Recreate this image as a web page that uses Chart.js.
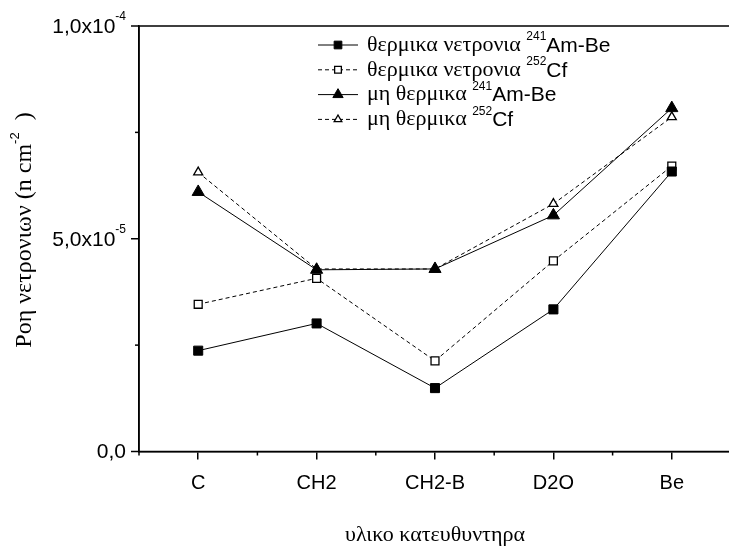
<!DOCTYPE html>
<html>
<head>
<meta charset="utf-8">
<script src="https://cdn.jsdelivr.net/npm/chart.js@4/dist/chart.umd.min.js"></script>
<style>
  html, body { margin: 0; padding: 0; background: #fff; overflow: hidden; }
  #wrap { width: 729px; height: 549px; overflow: hidden; }
</style>
</head>
<body>
<div id="wrap"><canvas id="fluxChart" width="740" height="549"></canvas></div>
<script>
// categories (moderator material)
const categories = ['C', 'CH2', 'CH2-B', 'D2O', 'Be'];

// neutron flux values (n cm^-2)
const thermalAmBe = [2.37e-5, 3.01e-5, 1.49e-5, 3.34e-5, 6.58e-5];
const thermalCf = [3.46e-5, 4.07e-5, 2.13e-5, 4.48e-5, 6.71e-5];
const fastAmBe = [6.10e-5, 4.27e-5, 4.29e-5, 5.55e-5, 8.07e-5];
const fastCf = [6.56e-5, 4.29e-5, 4.29e-5, 5.82e-5, 7.86e-5];

// y axis ticks, labelled ones get mantissa + exponent
const yTicks = [0, 2.5e-5, 5e-5, 7.5e-5, 1e-4];
const yTickBase = ['0,0', '', '5,0x10', '', '1,0x10'];
const yTickExp = ['', '', '-5', '', '-4'];

// legend text pieces
const legendNames = ['θερμικα νετρονια', 'θερμικα νετρονια', 'μη θερμικα', 'μη θερμικα'];
const legendIsotopes = ['241', '252', '241', '252'];
const legendSources = ['Am-Be', 'Cf', 'Am-Be', 'Cf'];

const xTitle = 'υλικο κατευθυντηρα';
const yTitle = 'Ροη νετρονιων (n cm';
const yTitleExp = '-2';

const SANS = '"Liberation Sans", Arial, sans-serif';
const SERIF = '"Liberation Serif", "Times New Roman", serif';

function series(data, style, dashed, filled, radius) {
  return {
    data,
    borderColor: '#000',
    borderWidth: 1,
    borderDash: dashed ? [4, 3] : [],
    pointStyle: style,
    pointRadius: radius,
    pointHoverRadius: radius,
    pointBackgroundColor: filled ? '#000' : '#fff',
    pointBorderColor: '#000',
    pointBorderWidth: filled ? 1 : 1.3,
    tension: 0,
    fill: false
  };
}

const datasets = [
  series(thermalAmBe, 'rect', false, true, 6.4),
  series(thermalCf, 'rect', true, false, 5.6),
  series(fastAmBe, 'triangle', false, true, 7),
  series(fastCf, 'triangle', true, false, 5.2)
];

function drawMarker(ctx, ds, x, y) {
  ctx.save();
  ctx.setLineDash([]);
  ctx.fillStyle = ds.pointBackgroundColor;
  ctx.strokeStyle = ds.pointBorderColor;
  ctx.lineWidth = ds.pointBorderWidth;
  Chart.helpers.drawPoint(ctx, { pointStyle: ds.pointStyle, radius: ds.pointRadius * 0.85, borderWidth: ds.pointBorderWidth }, x, y);
  ctx.restore();
}

const decorPlugin = {
  id: 'decor',
  afterDraw(chart) {
    const ctx = chart.ctx;
    const area = chart.chartArea;
    const xs = chart.scales.x;
    const ys = chart.scales.y;
    ctx.save();

    // frame
    ctx.strokeStyle = '#000';
    ctx.lineWidth = 1.5;
    ctx.strokeRect(area.left, area.top, area.right - area.left, area.bottom - area.top);

    // y ticks and labels
    yTicks.forEach((v, i) => {
      const y = ys.getPixelForValue(v);
      const major = yTickBase[i] !== '';
      ctx.beginPath();
      ctx.moveTo(area.left, y);
      ctx.lineTo(area.left - (major ? 8 : 4), y);
      ctx.stroke();
      if (!major) return;
      ctx.fillStyle = '#000';
      ctx.textBaseline = 'middle';
      ctx.textAlign = 'right';
      let right = area.left - 13;
      if (yTickExp[i]) {
        ctx.font = '12px ' + SANS;
        ctx.fillText(yTickExp[i], right, y - 9);
        right -= ctx.measureText(yTickExp[i]).width;
      }
      ctx.font = '21px ' + SANS;
      ctx.fillText(yTickBase[i], right, y + 1);
    });

    // minor x ticks between categories
    const half = (xs.getPixelForValue(1) - xs.getPixelForValue(0)) / 2;
    categories.forEach((c, i) => {
      const x = xs.getPixelForValue(i) - half;
      ctx.beginPath();
      ctx.moveTo(x, area.bottom);
      ctx.lineTo(x, area.bottom + 4);
      ctx.stroke();
    });

    // axis titles
    ctx.fillStyle = '#000';
    ctx.textAlign = 'center';
    ctx.textBaseline = 'middle';
    ctx.font = '22px ' + SERIF;
    ctx.fillText(xTitle, (area.left + area.right) / 2, 535);

    ctx.save();
    ctx.translate(25, 230);
    ctx.rotate(-Math.PI / 2);
    ctx.font = '24px ' + SERIF;
    const w1 = ctx.measureText(yTitle).width;
    ctx.font = '13px ' + SANS;
    const w2 = ctx.measureText(yTitleExp).width;
    ctx.font = '24px ' + SERIF;
    const w3 = ctx.measureText('  )').width;
    let tx = -(w1 + w2 + w3) / 2;
    ctx.textAlign = 'left';
    ctx.fillText(yTitle, tx, 0);
    tx += w1;
    ctx.font = '13px ' + SANS;
    ctx.fillText(yTitleExp, tx, -10);
    tx += w2;
    ctx.font = '24px ' + SERIF;
    ctx.fillText('  )', tx, 0);
    ctx.restore();

    // legend
    chart.data.datasets.forEach((ds, i) => {
      const y = 45 + i * 24.8;
      ctx.strokeStyle = '#000';
      ctx.lineWidth = 1;
      ctx.setLineDash(ds.borderDash);
      ctx.beginPath();
      ctx.moveTo(318, y);
      ctx.lineTo(358, y);
      ctx.stroke();
      ctx.setLineDash([]);
      drawMarker(ctx, ds, 338, y);

      ctx.fillStyle = '#000';
      ctx.textAlign = 'left';
      ctx.textBaseline = 'middle';
      let x = 367;
      ctx.font = '22px ' + SERIF;
      ctx.fillText(legendNames[i], x, y);
      x += ctx.measureText(legendNames[i] + ' ').width;
      ctx.font = '12px ' + SANS;
      ctx.fillText(legendIsotopes[i], x, y - 8);
      x += ctx.measureText(legendIsotopes[i]).width;
      ctx.font = '21px ' + SANS;
      ctx.fillText(legendSources[i], x, y + 1);
    });

    ctx.restore();
  }
};

new Chart(document.getElementById('fluxChart'), {
  type: 'line',
  data: { labels: categories, datasets },
  options: {
    responsive: false,
    animation: false,
    devicePixelRatio: 1,
    layout: { padding: { left: 139, top: 26, right: 9, bottom: 41.5 } },
    plugins: {
      legend: { display: false },
      tooltip: { enabled: false }
    },
    scales: {
      x: {
        offset: true,
        grid: {
          drawOnChartArea: false,
          drawTicks: true,
          tickLength: 8,
          tickColor: '#000',
          lineWidth: 1.5
        },
        border: { display: true, color: '#000', width: 1.5 },
        ticks: {
          color: '#000',
          padding: 12,
          maxRotation: 0,
          font: { family: SANS, size: 20 }
        }
      },
      y: {
        min: 0,
        max: 1e-4,
        ticks: { display: false, stepSize: 2.5e-5 },
        grid: { drawOnChartArea: false, drawTicks: false },
        border: { display: true, color: '#000', width: 1.5 }
      }
    }
  },
  plugins: [decorPlugin]
});
</script>
</body>
</html>
